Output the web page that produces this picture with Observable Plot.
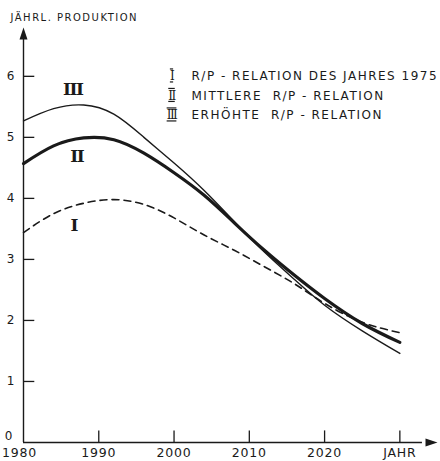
<!DOCTYPE html>
<html><head><meta charset="utf-8">
<script src="https://cdn.jsdelivr.net/npm/d3@7"></script>
<script src="https://cdn.jsdelivr.net/npm/@observablehq/plot@0.6"></script>
<style>body{margin:0;background:#fff} svg{display:block}</style>
</head><body><div id="chart"></div>
<script>
const years     = [1980, 1984, 1988, 1992, 1996, 2000, 2004, 2008, 2012, 2016, 2020, 2025, 2030];
const seriesI   = [3.44, 3.75, 3.92, 3.98, 3.90, 3.68, 3.40, 3.15, 2.88, 2.60, 2.28, 1.97, 1.80];
const seriesII  = [4.57, 4.86, 4.99, 4.96, 4.74, 4.42, 4.05, 3.60, 3.15, 2.74, 2.36, 1.95, 1.64];
const seriesIII = [5.27, 5.47, 5.53, 5.38, 5.00, 4.58, 4.13, 3.62, 3.12, 2.67, 2.25, 1.83, 1.46];
const seriesNames = ["I", "II", "III"];
const yTicks = [0, 1, 2, 3, 4, 5, 6];
const xTicks = [1980, 1990, 2000, 2010, 2020, 2030];
const xTickLabels = ["1980", "1990", "2000", "2010", "2020", "JAHR"];
const yTitle = "JÄHRL. PRODUKTION";
const legendTexts = ["R/P - RELATION DES JAHRES 1975", "MITTLERE  R/P - RELATION", "ERHÖHTE  R/P - RELATION"];

const allSeries = [seriesI, seriesII, seriesIII];
const table = allSeries.flatMap((vals, s) => vals.map((v, i) => ({year: years[i], value: v, series: seriesNames[s]})));
const rows = name => table.filter(d => d.series === name);

const ink = "#1a1a1a";
const arrowUp = {draw(ctx) { ctx.moveTo(0, 0); ctx.lineTo(-4, 12); ctx.lineTo(4, 12); ctx.closePath(); }};
const arrowRight = {draw(ctx) { ctx.moveTo(0, 0); ctx.lineTo(-12, -4); ctx.lineTo(-12, 4); ctx.closePath(); }};

const labelFont = "DejaVu Sans";
const numFont = "DejaVu Serif";
const fmt = d => xTickLabels[xTicks.indexOf(d)];

const chart = Plot.plot({
  width: 440,
  height: 461,
  marginLeft: 23,
  marginRight: 3,
  marginTop: 27,
  marginBottom: 19,
  x: {domain: [1980, 2035], label: null},
  y: {domain: [0, 6.8], label: null},
  style: {fontFamily: labelFont, color: ink, background: "#fff"},
  marks: [
    // axes lines
    Plot.ruleX([1980], {y1: 0, y2: 6.65, stroke: ink, strokeWidth: 1.4}),
    Plot.ruleY([0], {x1: 1980, x2: 2033, stroke: ink, strokeWidth: 1.4}),
    Plot.dot([{x: 1980, y: 6.8}], {x: "x", y: "y", symbol: arrowUp, fill: ink, stroke: null, r: 5}),
    Plot.dot([{x: 2035, y: 0}], {x: "x", y: "y", symbol: arrowRight, fill: ink, stroke: null, r: 5}),
    // ticks
    Plot.ruleY(yTicks.filter(d => d > 0), {x1: 1980, x2: 1981.5, stroke: ink, strokeWidth: 1.3}),
    Plot.ruleX(xTicks.slice(1), {y1: 0, y2: 0.19, stroke: ink, strokeWidth: 1.3}),
    Plot.axisY({ticks: yTicks.filter(d => d > 0), tickSize: 0, tickPadding: 9, fontSize: 12, tickFormat: d => String(d)}),
    Plot.axisY({ticks: [0], tickSize: 0, tickPadding: 11, dy: -6, fontSize: 12, tickFormat: d => String(d)}),
    Plot.axisX({ticks: xTicks.slice(1), tickSize: 0, tickPadding: 6, fontSize: 12.5, tickFormat: fmt}),
    Plot.axisX({ticks: [1980], tickSize: 0, tickPadding: 6, dx: -4, fontSize: 12.5, tickFormat: fmt}),
    // curves
    Plot.line(rows("I"), {x: "year", y: "value", curve: "natural", stroke: ink, strokeWidth: 1.6, strokeDasharray: "7,5"}),
    Plot.line(rows("II"), {x: "year", y: "value", curve: "natural", stroke: ink, strokeWidth: 3.2}),
    Plot.line(rows("III"), {x: "year", y: "value", curve: "natural", stroke: ink, strokeWidth: 1.4}),
    // curve labels (anchored to the 1988 point of each series)
    Plot.text([rows("III")[2]], {x: "year", y: "value", text: d => d.series, dx: -11, dy: -15, fontFamily: numFont, fontWeight: "bold", fontSize: 17, fill: ink}),
    Plot.text([rows("II")[2]], {x: "year", y: "value", text: d => d.series, dx: -7, dy: 19, fontFamily: numFont, fontWeight: "bold", fontSize: 17, fill: ink}),
    Plot.text([rows("I")[2]], {x: "year", y: "value", text: d => d.series, dx: -10, dy: 22, fontFamily: numFont, fontWeight: "bold", fontSize: 17, fill: ink}),
    // title
    Plot.text([yTitle], {frameAnchor: "top-left", dx: -13, dy: -10, textAnchor: "start", lineAnchor: "middle", fontSize: 10, fill: ink}),
    // legend
    ...seriesNames.map((n, i) => Plot.text([n], {frameAnchor: "top-left", dx: 148, dy: 49 + i * 19.5, textAnchor: "middle", lineAnchor: "middle", fontFamily: numFont, fontSize: 12, fill: ink})),
    ...legendTexts.map((t, i) => Plot.text([t], {frameAnchor: "top-left", dx: 168, dy: 49 + i * 19.5, textAnchor: "start", lineAnchor: "middle", fontSize: 12, fill: ink}))
  ]
});

const svg = d3.select(chart);
svg.selectAll("text").each(function() {
  const t = this.textContent;
  const el = d3.select(this);
  const fs = +(this.closest("g[font-size]")?.getAttribute("font-size") || this.getAttribute("font-size") || 0);
  if (t === yTitle) el.style("letter-spacing", "1.5px");
  if (legendTexts.includes(t)) el.style("letter-spacing", "1.5px").style("white-space", "pre");
  if (xTickLabels.includes(t)) el.style("letter-spacing", "0.8px");
  if (seriesNames.includes(t)) {
    el.style("letter-spacing", "-1.5px");
    if (fs === 12) el.style("text-decoration", "underline overline");
  }
});
document.getElementById("chart").appendChild(chart);
</script>
</body></html>
